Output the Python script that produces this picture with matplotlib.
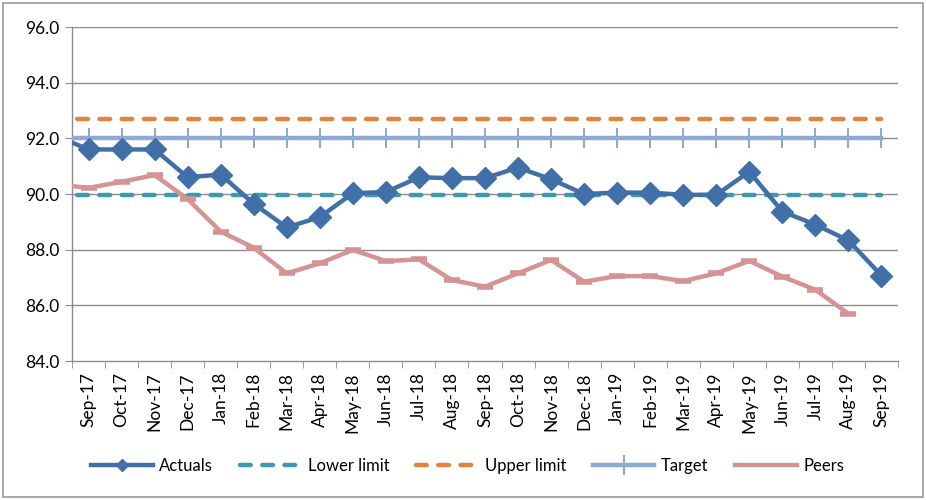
import numpy as np
import matplotlib.pyplot as plt
from matplotlib.patches import Rectangle

plt.rcParams['font.family'] = ['Lato', 'DejaVu Sans']

# Months shown on the axis; the series also carry the preceding month (Aug-17),
# which sits just outside the left edge so the lines run in from the axis
months = ['Sep-17', 'Oct-17', 'Nov-17', 'Dec-17', 'Jan-18', 'Feb-18', 'Mar-18',
          'Apr-18', 'May-18', 'Jun-18', 'Jul-18', 'Aug-18', 'Sep-18', 'Oct-18',
          'Nov-18', 'Dec-18', 'Jan-19', 'Feb-19', 'Mar-19', 'Apr-19', 'May-19',
          'Jun-19', 'Jul-19', 'Aug-19', 'Sep-19']

actuals = [92.1, 91.6, 91.6, 91.6, 90.6, 90.7, 89.65, 88.8, 89.17, 90.03, 90.07,
           90.6, 90.57, 90.57, 90.95, 90.53, 90.0, 90.05, 90.05, 89.97, 89.97,
           90.8, 89.37, 88.9, 88.33, 87.07]
peers = [90.35, 90.22, 90.44, 90.68, 89.82, 88.65, 88.07, 87.15, 87.51, 87.99,
         87.59, 87.65, 86.91, 86.67, 87.15, 87.63, 86.85, 87.05, 87.05, 86.87,
         87.15, 87.6, 87.03, 86.56, 85.7, np.nan]
lower_limit = 89.95
upper_limit = 92.7
target = 92.0

x = np.arange(-1, len(months))
flat = np.ones(len(x))

fig = plt.figure(figsize=(9.26, 5.0), dpi=100)
ax = fig.add_axes([72 / 926, 1 - 361 / 500, 826 / 926, 334 / 500])

grid_c = '#8c8c8c'
for v in np.arange(86, 97, 2):
    ax.axhline(v, color=grid_c, lw=1.0, zorder=1)

dash = dict(dashes=(2.4, 2.6), dash_capstyle='round', solid_capstyle='round')

l_act, = ax.plot(x, actuals, color='#4170a8', lw=3.2, marker='D', ms=11,
                 label='Actuals', zorder=6)
l_low, = ax.plot(x, lower_limit * flat, color='#3d99ae', lw=3.2,
                 label='Lower limit', zorder=4, **dash)
l_up, = ax.plot(x, upper_limit * flat, color='#e3823a', lw=3.2,
                label='Upper limit', zorder=4, **dash)
l_tgt, = ax.plot(x, target * flat, color='#90a9d2', lw=3.2, marker='|', ms=14,
                 mew=1.5, label='Target', zorder=3)
l_peer, = ax.plot(x, peers, color='#d69393', lw=3.2, marker='_', ms=12,
                  mew=4, label='Peers', zorder=5)

ax.set_xlim(-0.5, len(months) - 0.5)
ax.set_ylim(84, 96)
ax.set_yticks(np.arange(84, 97, 2))
ax.set_yticklabels([f'{v:.1f}' for v in np.arange(84, 97, 2)], fontsize=12.5)
ax.set_xticks(np.arange(len(months)))
ax.set_xticklabels(months, rotation=90, fontsize=12.5)
ax.set_xticks(np.arange(-0.5, len(months)), minor=True)
ax.tick_params(axis='x', which='major', length=0, pad=8)
ax.tick_params(axis='x', which='minor', length=5, color=grid_c, direction='out')
ax.tick_params(axis='y', length=5, color=grid_c, direction='out', pad=4)

for side in ['top', 'right']:
    ax.spines[side].set_visible(False)
for side in ['left', 'bottom']:
    ax.spines[side].set_color(grid_c)
    ax.spines[side].set_linewidth(1.0)

leg = fig.legend(handles=[l_act, l_low, l_up, l_tgt, l_peer], loc='center',
                 bbox_to_anchor=(0.505, 1 - 466 / 500), ncol=5, frameon=False,
                 fontsize=12, handlelength=3.7, columnspacing=1.6, handletextpad=0.4)
for h in leg.legend_handles:
    if h.get_label() == 'Actuals':
        h.set_markersize(6)
    if h.get_label() == 'Peers':
        h.set_marker('')

fig.patches.append(Rectangle((3 / 926, 3 / 500), 920 / 926, 494 / 500,
                             transform=fig.transFigure, fill=False,
                             edgecolor='#999999', lw=1.2))

fig.savefig('out.png', dpi=100)
